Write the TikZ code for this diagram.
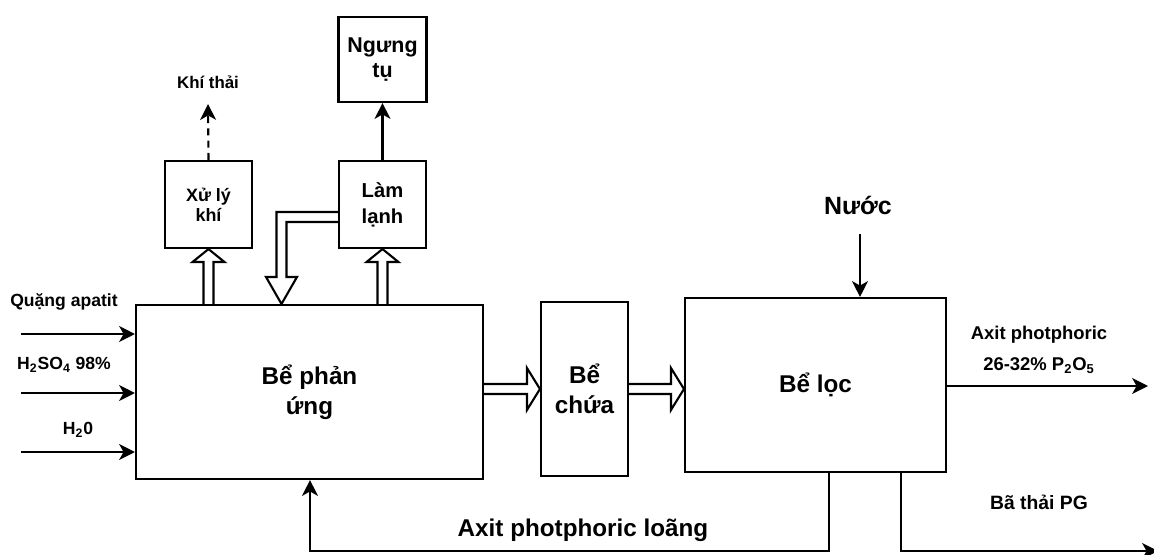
\documentclass[tikz,border=0pt]{standalone}
\usepackage{fontspec}
\setmainfont{Liberation Sans}
\usetikzlibrary{arrows.meta,calc}
\tikzset{
  box/.style={draw,line width=1.2pt,inner sep=1pt,align=center},
  flow/.style={-{Stealth[length=9pt,width=9pt,inset=2.5pt]},line width=1.2pt},
  gas/.style={flow,dash pattern=on 4pt off 3pt},
  hollow/.style={line width=1.2pt,line join=miter},
  bigtxt/.style={font=\fontsize{13.8}{17}\selectfont\bfseries},
  midtxt/.style={font=\fontsize{11.5}{14.8}\selectfont\bfseries},
  smalltxt/.style={font=\fontsize{10.2}{11.4}\selectfont\bfseries},
  lbl/.style={font=\fontsize{10}{12}\selectfont\bfseries,inner sep=0pt},
}
% hollow block arrows, sizes in px of the picture
\newcommand{\hollowup}[2]{% #1 foot, #2 tip
  \draw[hollow] ($(#1)+(-5,0)$) -- ($(#2)+(-5,13)$) -- ($(#2)+(-16,13)$) -- (#2)
    -- ($(#2)+(16,13)$) -- ($(#2)+(5,13)$) -- ($(#1)+(5,0)$);}
\newcommand{\hollowright}[2]{% #1 foot, #2 tip
  \draw[hollow] ($(#1)+(0,-5)$) -- ($(#2)+(-13,-5)$) -- ($(#2)+(-13,-21)$) -- (#2)
    -- ($(#2)+(-13,21)$) -- ($(#2)+(-13,5)$) -- ($(#1)+(0,5)$);}

\begin{document}
\begin{tikzpicture}[x=0.02cm,y=-0.02cm]
  \useasboundingbox (0,0) rectangle (1154,555);
  % units
  \node[box,bigtxt,minimum width=6.94cm,minimum height=3.48cm] (react) at (309.5,392) {Bể phản\\ứng};
  \node[box,smalltxt,minimum width=1.74cm,minimum height=1.74cm] (xl) at (208.5,204.5) {Xử lý\\khí};
  \node[box,midtxt,minimum width=1.74cm,minimum height=1.74cm] (cool) at (382.5,204.5) {Làm\\lạnh};
  \node[box,font=\fontsize{12.2}{14.6}\selectfont\bfseries,minimum width=1.76cm,minimum height=1.70cm] (cond) at (382.5,59.5) {Ngưng\\tụ};
  \node[box,bigtxt,minimum width=1.74cm,minimum height=3.48cm] (store) at (584.5,389) {Bể\\chứa};
  \node[box,bigtxt,minimum width=5.22cm,minimum height=3.48cm] (filt) at (815.5,385) {Bể lọc};

  % feeds
  \node[lbl] (orelbl) at (64,302) {Quặng apatit};
  \node[lbl] (acidlbl) at (64,365) {H\textsubscript{2}SO\textsubscript{4} 98\%};
  \node[lbl] (h2olbl) at (78,430) {H\textsubscript{2}0};
  \coordinate (in1) at (21,334);
  \coordinate (in2) at (21,393);
  \coordinate (in3) at (21,452);
  \foreach \c in {in1,in2,in3}
    \draw[flow] (\c) -- (\c -| react.west);

  % gas side
  \node[lbl,font=\fontsize{9.6}{11}\selectfont\bfseries] (gaslbl) at (208,82) {Khí thải};
  \coordinate (gasout) at (208,104);
  \draw[gas] (xl.north) -- (gasout);
  \coordinate (xlfoot) at (react.north -| xl);
  \hollowup{xlfoot}{xl.south}
  \coordinate (coolfoot) at (react.north -| cool);
  \hollowup{coolfoot}{cool.south}
  \draw[flow] (cool.north) -- (cond.south);
  % return from cooler
  \coordinate (backin) at ($(cool.west)+(0,12.5)$);
  \coordinate (bend) at (281.5,217);
  \coordinate (bendtip) at (bend |- react.north);
  \draw[hollow] ($(backin)+(0,-5)$) -- ($(bend)+(-5,-5)$) -- ($(bendtip)+(-5,-27)$)
    -- ($(bendtip)+(-15.5,-27)$) -- (bendtip) -- ($(bendtip)+(15.5,-27)$)
    -- ($(bendtip)+(5,-27)$) -- ($(bend)+(5,5)$) -- ($(backin)+(0,5)$);

  % main line
  \coordinate (reactout) at (react.east |- store.west);
  \hollowright{reactout}{store.west}
  \coordinate (filtin) at (filt.west |- store.east);
  \hollowright{store.east}{filtin}

  % filter
  \node[font=\fontsize{14.2}{16}\selectfont\bfseries] (waterlbl) at (858,205) {Nước};
  \coordinate (water) at (860,234);
  \draw[flow] (water) -- (water |- filt.north);
  \node[font=\fontsize{10.5}{17.6}\selectfont\bfseries,align=center] (prodlbl) at (1039,350)
    {Axit photphoric\\26-32\% P\textsubscript{2}O\textsubscript{5}};
  \coordinate (prod) at (1148,386);
  \draw[flow] (prod -| filt.east) -- (prod);
  \node[font=\fontsize{11}{13}\selectfont\bfseries] (wastelbl) at (1039,502) {Bã thải PG};
  \coordinate (wasteturn) at (901,551);
  \coordinate (wasteout) at (1158,551);
  \draw[flow] (wasteturn |- filt.south) -- (wasteturn) -- (wasteout);
  \coordinate (recturn) at (829,551);
  \coordinate (recup) at (310,551);
  \draw[flow] (recturn |- filt.south) -- (recturn) -- (recup) -- (recup |- react.south);
  \node[bigtxt] (reclbl) at (583,530) {Axit photphoric loãng};
\end{tikzpicture}
\end{document}
